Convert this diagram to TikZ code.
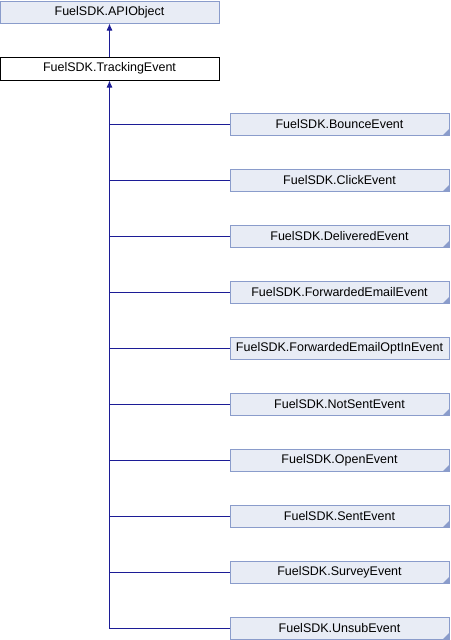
\documentclass[tikz,border=0pt]{standalone}
\usepackage{fontspec}
\setmainfont{Liberation Sans}
\usetikzlibrary{positioning, arrows.meta, calc}

\definecolor{edgeblue}{HTML}{1C1C96}
\definecolor{boxline}{HTML}{8A9CCB}
\definecolor{boxfill}{HTML}{E8ECF5}

\tikzset{
  classbox/.style={draw=boxline, fill=boxfill, line width=1pt, minimum width=219pt,
    minimum height=22pt, inner sep=0pt, font=\fontsize{12.5}{14}\selectfont},
  current/.style={classbox, draw=black, fill=white, minimum height=23pt},
  derived/.style={classbox, path picture={
      \fill[boxline] (path picture bounding box.south east) -- ++(-6pt,0) -- ++(6pt,6pt) -- cycle;}},
  inherit/.style={draw=edgeblue, line width=1pt},
}

\begin{document}
\begin{tikzpicture}[x=1pt, y=1pt]
    \useasboundingbox (0,0) rectangle (450,-640);

        % BASE CLASSES
        \node[classbox] (api) at (109.5,-12) {FuelSDK.APIObject};
        \node[current] (tracking) at (109.5,-68.5) {FuelSDK.TrackingEvent};
        \draw[inherit, -{Latex[length=7pt,width=6pt]}] (tracking.north) -- (api.south);

        % DERIVED CLASSES
        \node[derived] (bounce)    at (339.5,-124) {FuelSDK.BounceEvent};
        \node[derived] (click)     at (339.5,-180) {FuelSDK.ClickEvent};
        \node[derived] (delivered) at (339.5,-236) {FuelSDK.DeliveredEvent};
        \node[derived] (forwarded) at (339.5,-292) {FuelSDK.ForwardedEmailEvent};
        \node[classbox] (optin)    at (339.5,-348) {FuelSDK.ForwardedEmailOptInEvent};
        \node[derived] (notsent)   at (339.5,-404) {FuelSDK.NotSentEvent};
        \node[derived] (open)      at (339.5,-460) {FuelSDK.OpenEvent};
        \node[derived] (sent)      at (339.5,-516) {FuelSDK.SentEvent};
        \node[derived] (survey)    at (339.5,-572) {FuelSDK.SurveyEvent};
        \node[derived] (unsub)     at (339.5,-628) {FuelSDK.UnsubEvent};

        % TREE OF EDGES (ONE ARROW AT THE TOP)
        \draw[inherit, {Latex[length=7pt,width=6pt]}-] (tracking.south) |- (unsub.west);
        \draw[inherit] (tracking.south |- bounce.west)    -- (bounce.west);
        \draw[inherit] (tracking.south |- click.west)     -- (click.west);
        \draw[inherit] (tracking.south |- delivered.west) -- (delivered.west);
        \draw[inherit] (tracking.south |- forwarded.west) -- (forwarded.west);
        \draw[inherit] (tracking.south |- optin.west)     -- (optin.west);
        \draw[inherit] (tracking.south |- notsent.west)   -- (notsent.west);
        \draw[inherit] (tracking.south |- open.west)      -- (open.west);
        \draw[inherit] (tracking.south |- sent.west)      -- (sent.west);
        \draw[inherit] (tracking.south |- survey.west)    -- (survey.west);

    \end{tikzpicture}
\end{document}
